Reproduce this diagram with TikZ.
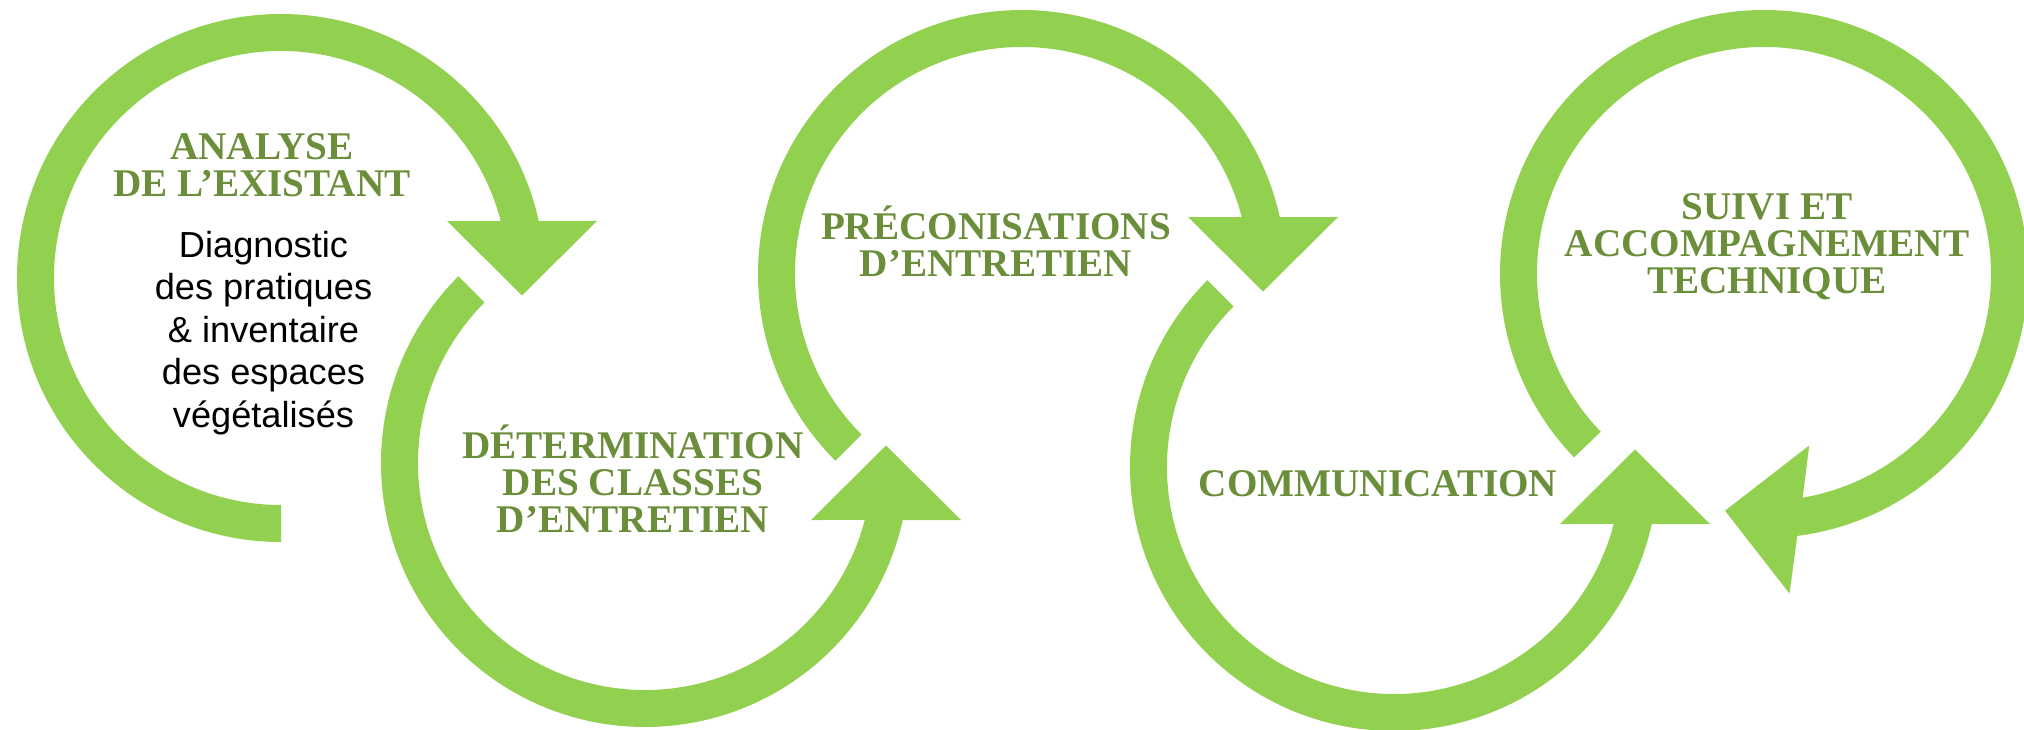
\documentclass[tikz,border=0pt]{standalone}
\usepackage{fontspec}
\setmainfont{Liberation Serif}
\newfontfamily\titlefont{Liberation Serif}
\newfontfamily\bodyfont{Liberation Sans}
\usetikzlibrary{calc}
\definecolor{ringgreen}{HTML}{92D050}
\definecolor{titlegreen}{HTML}{6B8E3A}
\begin{document}
\begin{tikzpicture}[x=1pt,y=1pt,
  ring/.style={fill=ringgreen, draw=none},
  steptitle/.style={text=titlegreen, font={\titlefont\bfseries\fontsize{39.2}{36.6}\selectfont}, anchor=base, inner sep=0pt},
  stepbody/.style={text=black, font={\bodyfont\fontsize{36.2}{42.4}\selectfont}, anchor=base, inner sep=0pt}]
\useasboundingbox (0,0) rectangle (2024,-730);
\coordinate (c1) at (281,-278);
\coordinate (c2) at (645,-463);
\coordinate (c3) at (1022,-274);
\coordinate (c4) at (1394,-467);
\coordinate (c5) at (1764,-274);
% ring 1: clockwise, arrow down
\fill[ring] ($(c1)+(270:264)$) arc[start angle=270, end angle=12.47, radius=264]
  -- ($(c1)+(316,57)$) -- ($(c1)+(241,-17.5)$) -- ($(c1)+(166,57)$)
  -- ($(c1)+(14.54:227)$) arc[start angle=14.54, end angle=270, radius=227] -- cycle;
% ring 2: counter-clockwise, arrow up
\fill[ring] ($(c2)+(135:264)$) arc[start angle=135, end angle=347.53, radius=264]
  -- ($(c2)+(316,-57)$) -- ($(c2)+(241,17.5)$) -- ($(c2)+(166,-57)$)
  -- ($(c2)+(345.46:227)$) arc[start angle=345.46, end angle=135, radius=227] -- cycle;
% ring 3: clockwise, arrow down
\fill[ring] ($(c3)+(225:264)$) arc[start angle=225, end angle=12.47, radius=264]
  -- ($(c3)+(316,57)$) -- ($(c3)+(241,-17.5)$) -- ($(c3)+(166,57)$)
  -- ($(c3)+(14.54:227)$) arc[start angle=14.54, end angle=225, radius=227] -- cycle;
% ring 4: counter-clockwise, arrow up
\fill[ring] ($(c4)+(135:264)$) arc[start angle=135, end angle=347.53, radius=264]
  -- ($(c4)+(316,-57)$) -- ($(c4)+(241,17.5)$) -- ($(c4)+(166,-57)$)
  -- ($(c4)+(345.46:227)$) arc[start angle=345.46, end angle=135, radius=227] -- cycle;
% ring 5: clockwise, arrow pointing left
\fill[ring] ($(c5)+(224:264)$) arc[start angle=224, end angle=-82.76, radius=264]
  -- ($(c5)+(25.5,-319.6)$) -- ($(c5)+(-39,-236.7)$) -- ($(c5)+(45.2,-171.5)$)
  -- ($(c5)+(-80.2:227)$) arc[start angle=-80.2, end angle=224, radius=227] -- cycle;
% texts
\node[steptitle] (t1) at (262,-159.5) {\begin{tabular}[t]{@{}c@{}}ANALYSE\\DE L’EXISTANT\end{tabular}};
\node[stepbody] (b1) at (263.5,-257.5) {\begin{tabular}[t]{@{}c@{}}Diagnostic\\des pratiques\\\& inventaire\\des espaces\\végétalisés\end{tabular}};
\node[steptitle] (t2) at (633,-458.9) {\begin{tabular}[t]{@{}c@{}}DÉTERMINATION\\DES CLASSES\\D’ENTRETIEN\end{tabular}};
\node[steptitle] (t3) at (996,-239.2) {\begin{tabular}[t]{@{}c@{}}PRÉCONISATIONS\\D’ENTRETIEN\end{tabular}};
\node[steptitle] (t4) at (1378,-496.7) {COMMUNICATION};
\node[steptitle] (t5) at (1767,-219.8) {\begin{tabular}[t]{@{}c@{}}SUIVI ET\\ACCOMPAGNEMENT\\TECHNIQUE\end{tabular}};
\end{tikzpicture}
\end{document}
